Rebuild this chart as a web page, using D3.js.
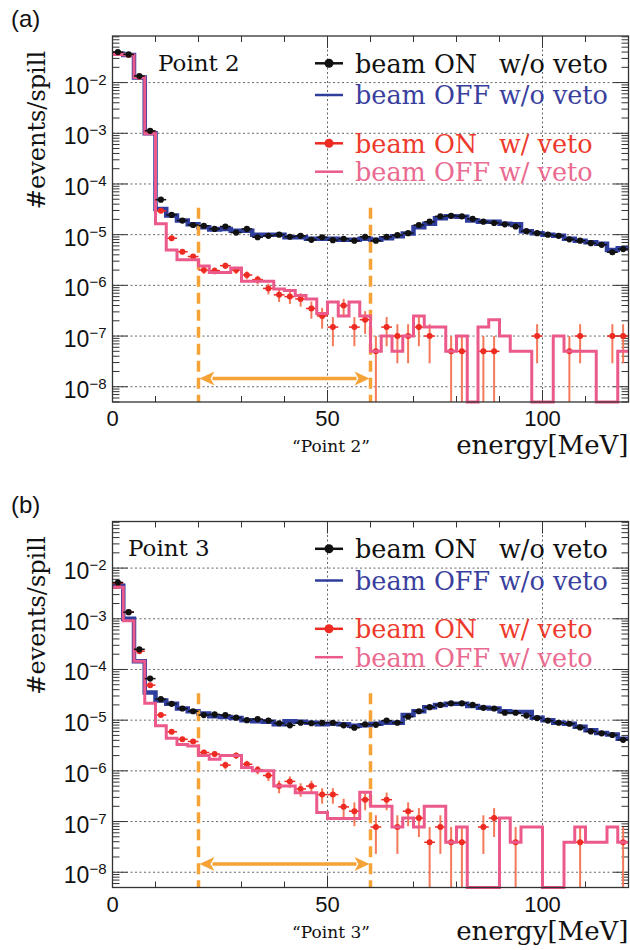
<!DOCTYPE html>
<html><head><meta charset="utf-8">
<script src="https://cdn.jsdelivr.net/npm/d3@7"></script>
<style>body{margin:0;background:#fff}</style>
</head><body>
<svg id="chart" width="630" height="950"></svg>
<script>
// ---------------- data ----------------
const binWidth = 2.5;                 // MeV
const xTickLabels = [0, 50, 100];
const yTickExponents = [-2, -3, -4, -5, -6, -7, -8];
const panelLabels = ["(a)", "(b)"];
const pointNames = ["Point 2", "Point 3"];
const legendPart1 = ["beam ON", "beam OFF", "beam ON", "beam OFF"];
const legendPart2 = ["w/o veto", "w/o veto", "w/ veto", "w/ veto"];
const cutLow = 20, cutHigh = 60;       // MeV, signal window

// Panel (a) – Point 2
const a_onNoVeto = [4.0e-2,3.6e-2,1.35e-2,1.12e-3,4.9e-5,2.45e-5,1.9e-5,1.55e-5,1.5e-5,1.3e-5,
 1.45e-5,1.1e-5,1.3e-5,8.9e-6,9.5e-6,1.0e-5,9.1e-6,9.5e-6,7.9e-6,8.9e-6,
 7.8e-6,8.3e-6,7.6e-6,9.1e-6,7.6e-6,9.1e-6,9.8e-6,1.07e-5,1.55e-5,1.8e-5,
 2.3e-5,2.35e-5,2.3e-5,2.05e-5,1.8e-5,1.7e-5,1.6e-5,1.45e-5,1.17e-5,1.07e-5,
 1.0e-5,9.5e-6,8.1e-6,7.6e-6,6.8e-6,6.3e-6,4.5e-6,5.2e-6];
const a_offNoVeto = [3.7e-2,3.5e-2,1.26e-2,1.0e-3,3.2e-5,2.4e-5,1.9e-5,1.6e-5,1.4e-5,1.26e-5,
 1.3e-5,1.2e-5,1.2e-5,1.0e-5,1.0e-5,1.0e-5,8.9e-6,8.9e-6,8.3e-6,8.3e-6,
 8.3e-6,7.9e-6,7.9e-6,8.3e-6,7.9e-6,8.5e-6,9.3e-6,1.05e-5,1.4e-5,1.65e-5,
 2.1e-5,2.3e-5,2.25e-5,1.9e-5,1.8e-5,1.8e-5,1.65e-5,1.6e-5,1.17e-5,1.07e-5,
 1.0e-5,9.5e-6,8.3e-6,7.6e-6,7.1e-6,6.6e-6,5.0e-6,5.4e-6];
const a_onVeto = [3.9e-2,3.5e-2,1.3e-2,1.1e-3,2.95e-5,8.5e-6,4.6e-6,3.7e-6,2.0e-6,1.95e-6,
 2.45e-6,2.0e-6,1.6e-6,1.3e-6,8.7e-7,6.5e-7,6.0e-7,5.4e-7,3.5e-7,2.5e-7,
 1.5e-7,4.0e-7,1.5e-7,2.1e-7,5e-8,1.5e-7,1e-7,1e-7,1.5e-7,1e-7,
 null,5e-8,5e-8,null,5e-8,5e-8,null,null,null,1e-7,
 null,null,5e-8,1e-7,null,null,1e-7,1e-7];
const a_onVetoErr = [0,0,0,0,1.2e-6,6.5e-7,4.8e-7,4.3e-7,3.2e-7,3.1e-7,
 3.5e-7,3.2e-7,2.8e-7,2.5e-7,2.1e-7,1.8e-7,1.7e-7,1.6e-7,1.3e-7,1.1e-7,
 8.7e-8,1.4e-7,8.7e-8,1.0e-7,5e-8,8.7e-8,7.1e-8,7.1e-8,8.7e-8,7.1e-8,
 0,5e-8,5e-8,0,5e-8,5e-8,0,0,0,7.1e-8,
 0,0,5e-8,7.1e-8,0,0,7.1e-8,7.1e-8];
const a_offVeto = [3.6e-2,3.5e-2,1.26e-2,9.8e-4,1.65e-5,5.0e-6,3.2e-6,3.2e-6,2.4e-6,1.8e-6,
 1.8e-6,2.2e-6,1.2e-6,1.2e-6,1.2e-6,8.5e-7,7.9e-7,6.3e-7,5.4e-7,2.8e-7,
 4.7e-7,2.5e-7,4.7e-7,2.5e-7,5e-8,1e-7,5e-8,1e-7,2.5e-7,1.5e-7,
 1.5e-7,5e-8,1e-7,0,1.5e-7,2.1e-7,1e-7,5e-8,5e-8,0,
 0,1e-7,5e-8,5e-8,5e-8,0,0,5e-8];

// Panel (b) – Point 3
const b_onNoVeto = [5.2e-3,1.35e-3,2.5e-4,6.6e-5,2.6e-5,2.1e-5,1.7e-5,1.5e-5,1.26e-5,1.3e-5,
 1.26e-5,1.12e-5,1.0e-5,1.05e-5,9.8e-6,8.7e-6,7.9e-6,8.9e-6,8.7e-6,8.9e-6,
 8.9e-6,7.9e-6,7.1e-6,8.3e-6,8.1e-6,9.8e-6,8.9e-6,1.17e-5,1.5e-5,1.8e-5,
 2.0e-5,2.15e-5,2.15e-5,2.0e-5,1.75e-5,1.7e-5,1.4e-5,1.4e-5,1.23e-5,1.1e-5,
 9.8e-6,8.9e-6,8.5e-6,7.2e-6,6.0e-6,5.5e-6,5.1e-6,4.1e-6];
const b_offNoVeto = [4.5e-3,1.0e-3,1.45e-4,3.5e-5,2.45e-5,2.1e-5,1.7e-5,1.5e-5,1.35e-5,1.2e-5,
 1.15e-5,1.1e-5,1.0e-5,9.5e-6,9.3e-6,8.3e-6,9.5e-6,9.3e-6,8.9e-6,8.3e-6,
 8.5e-6,8.3e-6,7.8e-6,7.9e-6,8.5e-6,8.9e-6,8.9e-6,1.26e-5,1.5e-5,1.8e-5,
 2.0e-5,2.1e-5,2.1e-5,1.9e-5,1.75e-5,1.7e-5,1.5e-5,1.45e-5,1.45e-5,1.12e-5,
 1.0e-5,8.9e-6,8.5e-6,7.4e-6,6.3e-6,5.6e-6,5.2e-6,4.3e-6];
const b_onVeto = [5.0e-3,1.35e-3,2.3e-4,4.9e-5,1.26e-5,5.9e-6,4.2e-6,3.8e-6,2.3e-6,2.15e-6,
 1.3e-6,2.0e-6,1.35e-6,1.05e-6,8.1e-7,5.0e-7,6.2e-7,4.4e-7,5.0e-7,3.4e-7,
 3.4e-7,1.95e-7,1.6e-7,2.7e-7,7.8e-8,2.7e-7,7.8e-8,1.6e-7,1.17e-7,3.9e-8,
 7.8e-8,3.9e-8,3.9e-8,null,7.8e-8,1.17e-7,null,3.9e-8,null,null,
 null,null,null,3.9e-8,null,null,null,3.9e-8];
const b_onVetoErr = [0,0,0,0,7.0e-7,4.8e-7,4.0e-7,3.85e-7,3.0e-7,2.9e-7,
 2.25e-7,2.8e-7,2.3e-7,2.0e-7,1.8e-7,1.4e-7,1.55e-7,1.3e-7,1.4e-7,1.15e-7,
 1.15e-7,8.7e-8,7.9e-8,1.03e-7,5.5e-8,1.03e-7,5.5e-8,7.9e-8,6.75e-8,3.9e-8,
 5.5e-8,3.9e-8,3.9e-8,0,5.5e-8,6.75e-8,0,3.9e-8,0,0,
 0,0,0,3.9e-8,0,0,0,3.9e-8];
const b_offVeto = [4.2e-3,9.1e-4,1.45e-4,2.15e-5,7.8e-6,4.4e-6,3.3e-6,3.1e-6,2.0e-6,1.7e-6,
 2.0e-6,2.0e-6,1.17e-6,1.0e-6,1.0e-6,5.0e-7,5.0e-7,3.7e-7,3.7e-7,1.5e-7,
 1.15e-7,1.15e-7,1.15e-7,3.8e-7,2.0e-7,2.0e-7,7.8e-8,1.17e-7,7.8e-8,2.0e-7,
 2.0e-7,3.9e-8,7.8e-8,0,0,0,1.17e-7,3.9e-8,7.8e-8,7.8e-8,
 0,0,3.9e-8,7.8e-8,3.9e-8,3.9e-8,7.8e-8,3.9e-8];

// ---------------- layout / style ----------------
const C = {
  black: "#111111", blue: "#2f3d9c", blueText: "#3a3f9e",
  red: "#ee2b22", redBar: "#f4785a", redText: "#ee3a2c",
  pink: "#ec5a8c", pinkText: "#ea6a90", orange: "#f5a236",
  grid: "#666", frame: "#333"
};
const SERIF = "'DejaVu Serif', serif";
const SANS = "'Liberation Sans', Arial, sans-serif";

const panels = [
  {top: 36, nameX: 158, on: a_onNoVeto, off: a_offNoVeto, onV: a_onVeto, onVErr: a_onVetoErr, offV: a_offVeto},
  {top: 521.5, nameX: 128, on: b_onNoVeto, off: b_offNoVeto, onV: b_onVeto, onVErr: b_onVetoErr, offV: b_offVeto}
];
const plotH = 366, left = 112.5, right = 628.5;
const svg = d3.select("#chart");

const x = d3.scaleLinear().domain([0, 120]).range([left, right]);

panels.forEach((p, pi) => {
  const top = p.top, bottom = top + plotH;
  const y = d3.scaleLog().domain([5e-9, 8.3e-2]).range([bottom, top]);
  const yv = v => (v > 0 ? y(v) : bottom);
  const g = svg.append("g");
  const bins = d3.range(0, 120, binWidth);

  // grid
  yTickExponents.forEach(e => {
    g.append("line").attr("x1", left).attr("x2", right)
      .attr("y1", y(Math.pow(10, e))).attr("y2", y(Math.pow(10, e)))
      .attr("stroke", C.grid).attr("stroke-width", 1).attr("stroke-dasharray", "2,2.5");
  });
  [50, 100].forEach(t => {
    g.append("line").attr("x1", x(t)).attr("x2", x(t)).attr("y1", top).attr("y2", bottom)
      .attr("stroke", C.grid).attr("stroke-width", 1).attr("stroke-dasharray", "2,2.5");
  });

  // log ticks (left & right)
  for (let k = -9; k <= -1; k++) {
    for (let m = 1; m <= 9; m++) {
      const v = m * Math.pow(10, k);
      if (v < 5e-9 || v > 8.3e-2) continue;
      const len = m === 1 ? 15 : 7;
      const yy = y(v);
      g.append("line").attr("x1", left).attr("x2", left + len).attr("y1", yy).attr("y2", yy)
        .attr("stroke", C.frame).attr("stroke-width", 1);
      g.append("line").attr("x1", right - len).attr("x2", right).attr("y1", yy).attr("y2", yy)
        .attr("stroke", C.frame).attr("stroke-width", 1);
    }
  }
  // x ticks (bottom & top)
  d3.range(0, 121, 10).forEach(t => {
    const len = (t % 50 === 0) ? 12 : 6;
    g.append("line").attr("x1", x(t)).attr("x2", x(t)).attr("y1", bottom).attr("y2", bottom - len)
      .attr("stroke", C.frame).attr("stroke-width", 1);
    g.append("line").attr("x1", x(t)).attr("x2", x(t)).attr("y1", top).attr("y2", top + len)
      .attr("stroke", C.frame).attr("stroke-width", 1);
  });

  // y tick labels
  yTickExponents.forEach(e => {
    const yy = y(Math.pow(10, e));
    const t = g.append("text").attr("x", left - 6).attr("y", yy + 11)
      .attr("text-anchor", "end").attr("font-family", SANS).attr("font-size", 23).attr("fill", "#111");
    t.append("tspan").text("10");
    t.append("tspan").attr("dy", -9).attr("font-size", 15).text("\u2212" + Math.abs(e));
  });
  // x tick labels
  xTickLabels.forEach(t => {
    g.append("text").attr("x", x(t)).attr("y", bottom + 24).attr("text-anchor", "middle")
      .attr("font-family", SANS).attr("font-size", 22).attr("fill", "#111").text(t);
  });

  // histogram step path
  const stepPath = vals => {
    let s = "";
    vals.forEach((v, i) => {
      const x0 = x(bins[i]), x1 = x(bins[i] + binWidth), yy = yv(v);
      s += (i === 0 ? `M${x0},${yy}` : `V${yy}`) + `H${x1}`;
    });
    return s;
  };

  // beam OFF w/o veto (blue)
  g.append("path").attr("d", stepPath(p.off)).attr("fill", "none")
    .attr("stroke", C.blue).attr("stroke-width", 4.5);

  // signal window dashed lines
  [cutLow, cutHigh].forEach(c => {
    g.append("line").attr("x1", x(c)).attr("x2", x(c)).attr("y1", y(3.4e-5)).attr("y2", bottom)
      .attr("stroke", C.orange).attr("stroke-width", 3.5).attr("stroke-dasharray", "11,6");
  });

  // beam ON w/ veto (red points)
  p.onV.forEach((v, i) => {
    if (v == null) return;
    const cx = x(bins[i] + binWidth / 2), yy = y(v), err = p.onVErr[i];
    if (err > 0) {
      const yHi = y(v + err), yLo = (v - err) > 0 ? y(v - err) : bottom;
      g.append("line").attr("x1", cx).attr("x2", cx).attr("y1", yHi).attr("y2", yLo)
        .attr("stroke", C.redBar).attr("stroke-width", 2);
    }
    g.append("line").attr("x1", x(bins[i])).attr("x2", x(bins[i] + binWidth)).attr("y1", yy).attr("y2", yy)
      .attr("stroke", C.red).attr("stroke-width", 1.5);
    g.append("circle").attr("cx", cx).attr("cy", yy).attr("r", 3).attr("fill", C.red);
  });

  // beam OFF w/ veto (pink)
  g.append("path").attr("d", stepPath(p.offV)).attr("fill", "none")
    .attr("stroke", C.pink).attr("stroke-width", 3);

  // beam ON w/o veto (black points)
  p.on.forEach((v, i) => {
    const cx = x(bins[i] + binWidth / 2), yy = y(v);
    g.append("line").attr("x1", x(bins[i])).attr("x2", x(bins[i] + binWidth)).attr("y1", yy).attr("y2", yy)
      .attr("stroke", C.black).attr("stroke-width", 1.5);
    g.append("circle").attr("cx", cx).attr("cy", yy).attr("r", 3.1).attr("fill", C.black);
  });

  // arrow for signal window
  const ay = y(1.45e-8), ax0 = x(cutLow) + 1, ax1 = x(cutHigh) - 1, ah = 15, aw = 7;
  g.append("line").attr("x1", ax0 + ah - 2).attr("x2", ax1 - ah + 2).attr("y1", ay).attr("y2", ay)
    .attr("stroke", C.orange).attr("stroke-width", 3.5);
  g.append("path").attr("d", `M${ax0},${ay}L${ax0 + ah},${ay - aw}L${ax0 + ah - 4},${ay}L${ax0 + ah},${ay + aw}Z`)
    .attr("fill", C.orange);
  g.append("path").attr("d", `M${ax1},${ay}L${ax1 - ah},${ay - aw}L${ax1 - ah + 4},${ay}L${ax1 - ah},${ay + aw}Z`)
    .attr("fill", C.orange);

  // frame
  g.append("rect").attr("x", left).attr("y", top).attr("width", right - left).attr("height", plotH)
    .attr("fill", "none").attr("stroke", C.frame).attr("stroke-width", 1.3);

  // point name inside plot
  g.append("text").attr("x", p.nameX).attr("y", top + 34.7).attr("font-family", SERIF)
    .attr("font-size", 23).attr("fill", "#111").text(pointNames[pi]);

  // legend
  const rows = [
    {dy: 27.3, col: C.black, txt: C.black, dot: true},
    {dy: 59, col: C.blue, txt: C.blueText, dot: false},
    {dy: 107.3, col: C.red, txt: C.redText, dot: true},
    {dy: 135.7, col: C.pink, txt: C.pinkText, dot: false}
  ];
  rows.forEach((r, ri) => {
    const ly = top + r.dy;
    g.append("line").attr("x1", 315).attr("x2", 343).attr("y1", ly).attr("y2", ly)
      .attr("stroke", r.col).attr("stroke-width", 2.5);
    if (r.dot) g.append("circle").attr("cx", 329).attr("cy", ly).attr("r", 4.5).attr("fill", r.col);
    g.append("text").attr("x", 355).attr("y", ly + 9.4).attr("font-family", SERIF)
      .attr("font-size", 25.5).attr("fill", r.txt).text(legendPart1[ri]);
    g.append("text").attr("x", 499).attr("y", ly + 9.4).attr("font-family", SERIF)
      .attr("font-size", 25.5).attr("fill", r.txt).text(legendPart2[ri]);
  });

  // axis titles
  g.append("text").attr("transform", `translate(45,${top + 94}) rotate(-90)`)
    .attr("text-anchor", "middle").attr("font-family", SERIF).attr("font-size", 24)
    .attr("fill", "#111").text("#events/spill");
  g.append("text").attr("x", right).attr("y", bottom + 52).attr("text-anchor", "end")
    .attr("font-family", SERIF).attr("font-size", 26).attr("fill", "#111").text("energy[MeV]");
  g.append("text").attr("x", 331).attr("y", bottom + 50).attr("text-anchor", "middle")
    .attr("font-family", SERIF).attr("font-size", 17).attr("fill", "#111")
    .text("\u201C" + pointNames[pi] + "\u201D");

  // panel label
  svg.append("text").attr("x", 11).attr("y", top - 9).attr("font-family", SANS)
    .attr("font-size", 24).attr("fill", "#111").text(panelLabels[pi]);
});
</script>
</body></html>
